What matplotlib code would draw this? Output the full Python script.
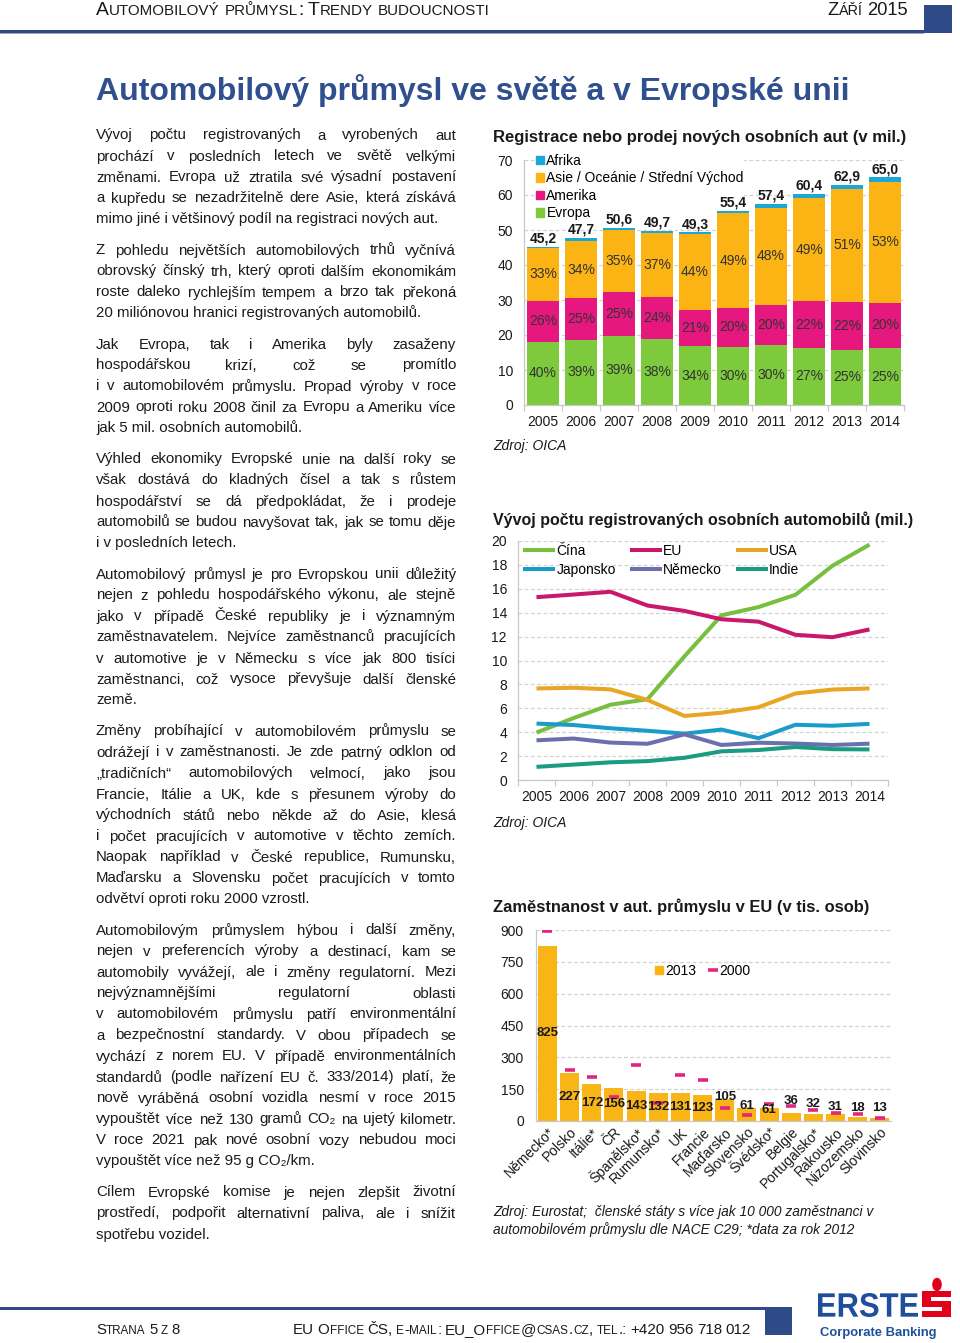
import numpy as np
import matplotlib
matplotlib.use('Agg')
import matplotlib.pyplot as plt
from matplotlib.patches import Patch, Rectangle, Circle, PathPatch
from matplotlib.lines import Line2D
from matplotlib.textpath import TextPath
from matplotlib.font_manager import FontProperties
from matplotlib.transforms import Affine2D, IdentityTransform

plt.rcParams['font.family'] = ['Liberation Sans', 'DejaVu Sans']

# ---------------- data ----------------
years = ['2005', '2006', '2007', '2008', '2009', '2010', '2011', '2012', '2013', '2014']

reg_series = ['Afrika', 'Asie / Oceánie / Střední Východ', 'Amerika', 'Evropa']
reg_total = [45.2, 47.7, 50.6, 49.7, 49.3, 55.4, 57.4, 60.4, 62.9, 65.0]
share_evropa = [40, 39, 39, 38, 34, 30, 30, 27, 25, 25]
share_amerika = [26, 25, 25, 24, 21, 20, 20, 22, 22, 20]
share_asie = [33, 34, 35, 37, 44, 49, 48, 49, 51, 53]

line_series = ['Čína', 'EU', 'USA', 'Japonsko', 'Německo', 'Indie']
cina = [3.97, 5.18, 6.30, 6.76, 10.35, 13.78, 14.47, 15.50, 17.93, 19.70]
eu = [15.30, 15.52, 15.75, 14.60, 14.15, 13.45, 13.25, 12.15, 11.95, 12.60]
usa = [7.66, 7.72, 7.58, 6.70, 5.36, 5.63, 6.09, 7.24, 7.57, 7.66]
japonsko = [4.72, 4.60, 4.33, 4.12, 3.88, 4.22, 3.50, 4.62, 4.54, 4.70]
nemecko = [3.32, 3.47, 3.13, 3.03, 3.82, 2.93, 3.12, 3.05, 2.93, 3.04]
indie = [1.10, 1.29, 1.48, 1.58, 1.86, 2.40, 2.51, 2.76, 2.58, 2.56]

countries = ['Německo*', 'Polsko', 'Itálie*', 'ČR', 'Španělsko*', 'Rumunsko*', 'UK', 'Francie',
             'Maďarsko', 'Slovensko', 'Švédsko*', 'Belgie', 'Portugalsko*', 'Rakousko',
             'Nizozemsko', 'Slovinsko']
emp_2013 = [825, 227, 172, 156, 143, 132, 131, 123, 105, 61, 61, 36, 32, 31, 18, 13]
emp_2000 = [897, 240, 206, 112, 266, 84, 219, 195, 60, 26, 81, 69, 54, 40, 35, 14]

paragraphs = [
    ["Vývoj počtu registrovaných a vyrobených aut",
     "prochází v posledních letech ve světě velkými",
     "změnami. Evropa už ztratila své výsadní postavení",
     "a kupředu se nezadržitelně dere Asie, která získává",
     "mimo jiné i většinový podíl na registraci nových aut."],
    ["Z pohledu největších automobilových trhů vyčnívá",
     "obrovský čínský trh, který oproti dalším ekonomikám",
     "roste daleko rychlejším tempem a brzo tak překoná",
     "20 miliónovou hranici registrovaných automobilů."],
    ["Jak Evropa, tak i Amerika byly zasaženy",
     "hospodářskou krizí, což se promítlo",
     "i v automobilovém průmyslu. Propad výroby v roce",
     "2009 oproti roku 2008 činil za Evropu a Ameriku více",
     "jak 5 mil. osobních automobilů."],
    ["Výhled ekonomiky Evropské unie na další roky se",
     "však dostává do kladných čísel a tak s růstem",
     "hospodářství se dá předpokládat, že i prodeje",
     "automobilů se budou navyšovat tak, jak se tomu děje",
     "i v posledních letech."],
    ["Automobilový průmysl je pro Evropskou unii důležitý",
     "nejen z pohledu hospodářského výkonu, ale stejně",
     "jako v případě České republiky je i významným",
     "zaměstnavatelem. Nejvíce zaměstnanců pracujících",
     "v automotive je v Německu s více jak 800 tisíci",
     "zaměstnanci, což vysoce převyšuje další členské",
     "země."],
    ["Změny probíhající v automobilovém průmyslu se",
     "odrážejí i v zaměstnanosti. Je zde patrný odklon od",
     "„tradičních“ automobilových velmocí, jako jsou",
     "Francie, Itálie a UK, kde s přesunem výroby do",
     "východních států nebo někde až do Asie, klesá",
     "i počet pracujících v automotive v těchto zemích.",
     "Naopak například v České republice, Rumunsku,",
     "Maďarsku a Slovensku počet pracujících v tomto",
     "odvětví oproti roku 2000 vzrostl."],
    ["Automobilovým průmyslem hýbou i další změny,",
     "nejen v preferencích výroby a destinací, kam se",
     "automobily vyvážejí, ale i změny regulatorní. Mezi",
     "nejvýznamnějšími regulatorní oblasti",
     "v automobilovém průmyslu patří environmentální",
     "a bezpečnostní standardy. V obou případech se",
     "vychází z norem EU. V případě environmentálních",
     "standardů (podle nařízení EU č. 333/2014) platí, že",
     "nově vyráběná osobní vozidla nesmí v roce 2015",
     "vypouštět více než 130 gramů CO₂ na ujetý kilometr.",
     "V roce 2021 pak nové osobní vozy nebudou moci",
     "vypouštět více než 95 g CO₂/km."],
    ["Cílem Evropské komise je nejen zlepšit životní",
     "prostředí, podpořit alternativní paliva, ale i snížit",
     "spotřebu vozidel."],
]

# ---------------- setup ----------------
W, H = 960, 1343
fig = plt.figure(figsize=(9.6, 13.43), dpi=100)
R = fig.canvas.get_renderer()
TXT = '#1a1a1a'
NAVY = '#2e4b88'


def fx(x):
    return x / W


def fy(y):
    return 1 - y / H


def text_w(s, **kw):
    t = fig.text(0, 0, s, **kw)
    w = t.get_window_extent(R).width
    t.remove()
    return w


def fit_size(s, width, **kw):
    return 10.0 * width / text_w(s, fontsize=10.0, **kw)


def rect_px(x0, y0, x1, y1, color, z=1):
    fig.add_artist(Rectangle((fx(x0), fy(y1)), fx(x1) - fx(x0), fy(y0) - fy(y1),
                             transform=fig.transFigure, color=color, lw=0, zorder=z))


def runs_of(s):
    out = []
    for ch in s:
        kind = 'space' if ch == ' ' else ('small' if ch.islower() else 'big')
        if out and out[-1][1] == kind:
            out[-1][0] += ch
        else:
            out.append([ch, kind])
    return out


def smallcaps(x, y, s, big, small, color=TXT, draw=True):
    cx = x
    sp = text_w('H H', fontsize=small) - text_w('HH', fontsize=small)
    for txt, kind in runs_of(s):
        if kind == 'space':
            cx += sp * len(txt)
            continue
        fs = small if kind == 'small' else big
        if draw:
            fig.text(fx(cx), fy(y), txt.upper(), fontsize=fs, color=color,
                     va='baseline', ha='left')
        cx += text_w(txt.upper(), fontsize=fs) + 0.3
    return cx - x


def smallcaps_fit(x0, x1, y, s, big, small, color=TXT):
    w = smallcaps(0, 0, s, big, small, draw=False)
    k = (x1 - x0) / w
    smallcaps(x0, y, s, big * k, small * k, color)


# ---------------- header / footer ----------------
smallcaps_fit(96, 487, 15, 'Automobilový průmysl: Trendy budoucnosti', 11, 8.6)
smallcaps_fit(827, 908, 15, 'Září 2015', 11, 8.6)
rect_px(0, 30, 924, 33, NAVY)
rect_px(0, 33, 924, 34, '#9aa6bd')
rect_px(924, 5, 952, 33, NAVY)

fs_title = fit_size('Automobilový průmysl ve světě a v Evropské unii', 755, weight='bold')
fig.text(fx(96), fy(100), 'Automobilový průmysl ve světě a v Evropské unii',
         fontsize=fs_title, weight='bold', color='#2f4f8f', va='baseline', ha='left')

rect_px(0, 1307, 765, 1310, NAVY)
rect_px(765, 1307, 792, 1335, NAVY)
smallcaps_fit(96, 180, 1334, 'Strana 5 z 8', 11, 8.6)
smallcaps_fit(293, 749, 1334, 'EU Office ČS, e-mail: EU_Office@csas.cz, tel.: +420 956 718 012', 11, 8.6)

# ERSTE logo
BL = '#1f4f9c'
fp = FontProperties(family='Liberation Sans', weight='bold')
tp = TextPath((0, 0), 'ERSTE', size=100, prop=fp)
bb = tp.get_extents()
tr = Affine2D().translate(-bb.x0, -bb.y0).scale(100 / bb.width, 24 / bb.height).translate(818, H - 1317)
fig.add_artist(PathPatch(tr.transform_path(tp), facecolor=BL, edgecolor='none',
                         transform=IdentityTransform()))
RED = '#e2001a'
rect_px(922, 1291, 951, 1317, RED, z=2)
rect_px(931, 1297, 951, 1301, 'white', z=3)
rect_px(922, 1307, 942, 1311, 'white', z=3)
fig.add_artist(Circle((fx(937), fy(1284.5)), 4.8 / W, transform=fig.transFigure, color=RED, lw=0))
fs_cb = fit_size('Corporate Banking', 117, weight='bold')
fig.text(fx(820), fy(1336), 'Corporate Banking', fontsize=fs_cb, weight='bold', color=BL,
         va='baseline', ha='left')

# ---------------- body text ----------------
X0, X1 = 96, 456
fs_body = fit_size('mimo jiné i většinový podíl na registraci nových aut.', 345)
LH, GAP = 21, 10
yb = 139.5
for para in paragraphs:
    for i, line in enumerate(para):
        last = (i == len(para) - 1)
        words = line.split(' ')
        if last or len(words) == 1:
            fig.text(fx(X0), fy(yb), line, fontsize=fs_body, color=TXT, va='baseline', ha='left')
        else:
            ws = [text_w(w_, fontsize=fs_body) for w_ in words]
            gap = (X1 - X0 - sum(ws)) / (len(words) - 1)
            cx = X0
            for w_, wd in zip(words, ws):
                fig.text(fx(cx), fy(yb), w_, fontsize=fs_body, color=TXT, va='baseline', ha='left')
                cx += wd + gap
        yb += LH
    yb += GAP


# ---------------- chart helpers ----------------
def add_ax(l, r, t, b):
    return fig.add_axes([fx(l), fy(b), fx(r) - fx(l), fy(t) - fy(b)])


def style(ax, ymax, step, ypad=8):
    ax.set_ylim(0, ymax)
    ax.set_yticks(np.arange(0, ymax + step / 2, step))
    ax.set_axisbelow(True)
    ax.yaxis.grid(True, color='#d2d2d2', ls=(0, (3, 2)), lw=0.9)
    for sp in ['top', 'right']:
        ax.spines[sp].set_visible(False)
    for sp in ['left', 'bottom']:
        ax.spines[sp].set_color('#c8c8c8')
        ax.spines[sp].set_linewidth(0.9)
    ax.tick_params(axis='y', length=0, pad=ypad, labelsize=10, labelcolor=TXT)
    ax.tick_params(axis='x', which='major', length=0, pad=7, labelsize=10, labelcolor=TXT)
    ax.tick_params(axis='x', which='minor', length=4, color='#c8c8c8', width=0.9)


def chart_title(x0, x1, y, s):
    fs = fit_size(s, x1 - x0, weight='bold')
    fig.text(fx(x0), fy(y), s, fontsize=fs, weight='bold', color=TXT, va='baseline', ha='left')


def source(x, y, s, fs=10):
    fig.text(fx(x), fy(y), s, fontsize=fs, style='italic', color=TXT, va='baseline', ha='left')


# ---------------- chart 1 ----------------
C_AF, C_AS, C_AM, C_EV = '#1ba7d8', '#fbb413', '#e6187f', '#7dcb3d'
chart_title(493, 908, 142, 'Registrace nebo prodej nových osobních aut (v mil.)')
ax1 = add_ax(524, 904, 160, 405)
x = np.arange(len(years))
tot = np.array(reg_total)
ev = tot * np.array(share_evropa) / 100
am = tot * np.array(share_amerika) / 100
asi = tot * np.array(share_asie) / 100
af = tot - ev - am - asi
bw = 0.84
ax1.bar(x, ev, bw, color=C_EV, zorder=2)
ax1.bar(x, am, bw, bottom=ev, color=C_AM, zorder=2)
ax1.bar(x, asi, bw, bottom=ev + am, color=C_AS, zorder=2)
ax1.bar(x, af, bw, bottom=ev + am + asi, color=C_AF, zorder=2)
for i in x:
    ax1.text(i, ev[i] / 2, f'{share_evropa[i]}%', ha='center', va='center', fontsize=10, color='#333', zorder=4)
    ax1.text(i, ev[i] + am[i] / 2, f'{share_amerika[i]}%', ha='center', va='center', fontsize=10, color='#333', zorder=4)
    ax1.text(i, ev[i] + am[i] + asi[i] / 2, f'{share_asie[i]}%', ha='center', va='center', fontsize=10, color='#333', zorder=4)
    ax1.annotate(f'{reg_total[i]:.1f}'.replace('.', ','), (i, tot[i]), xytext=(0, 1),
                 textcoords='offset points', ha='center', va='bottom', fontsize=10,
                 weight='bold', color=TXT, zorder=4)
ax1.set_xlim(-0.5, len(years) - 0.5)
ax1.set_xticks(x)
ax1.set_xticklabels(years)
ax1.set_xticks(np.arange(-0.5, len(years)), minor=True)
style(ax1, 70, 10)
h1 = [Patch(color=c) for c in [C_AF, C_AS, C_AM, C_EV]]
leg1 = ax1.legend(h1, reg_series, loc='upper left', bbox_to_anchor=(fx(536), fy(154)),
                  bbox_transform=fig.transFigure, frameon=True, facecolor='white', edgecolor='none',
                  framealpha=1, fancybox=False, fontsize=10, handlelength=0.55, handleheight=0.55,
                  handletextpad=0.2, labelspacing=0.25, borderpad=0, borderaxespad=0)
leg1.set_zorder(1)
source(493, 450, 'Zdroj: OICA')

# ---------------- chart 2 ----------------
chart_title(493, 913, 525, 'Vývoj počtu registrovaných osobních automobilů (mil.)')
ax2 = add_ax(518, 888, 541, 780)
line_data = [cina, eu, usa, japonsko, nemecko, indie]
line_cols = ['#78bf3f', '#c8186b', '#e8a625', '#1b9bc9', '#6b70ad', '#1a9b82']
handles = {}
for name, d, c in zip(line_series, line_data, line_cols):
    ln, = ax2.plot(x, d, color=c, lw=2.9, solid_joinstyle='round', solid_capstyle='butt', zorder=3)
    handles[name] = ln
ax2.set_xlim(-0.5, len(years) - 0.5)
ax2.set_xticks(x)
ax2.set_xticklabels(years)
ax2.set_xticks(np.arange(-0.5, len(years)), minor=True)
style(ax2, 20, 2)
order = ['Čína', 'Japonsko', 'EU', 'Německo', 'USA', 'Indie']
ax2.legend([handles[n] for n in order], order, ncol=3, loc='upper left',
           bbox_to_anchor=(fx(523), fy(544)), bbox_transform=fig.transFigure, frameon=False,
           fontsize=10, handlelength=2.3, handletextpad=0.1, labelspacing=0.36,
           columnspacing=1.0, borderpad=0, borderaxespad=0)
source(493, 827, 'Zdroj: OICA')

# ---------------- chart 3 ----------------
C13, C00 = '#f9b515', '#e2257e'
chart_title(493, 870, 912, 'Zaměstnanost v aut. průmyslu v EU (v tis. osob)')
ax3 = add_ax(536.4, 891, 930, 1121)
x3 = np.arange(len(countries))
ax3.bar(x3, emp_2013, 0.86, color=C13, zorder=2)
ax3.plot(x3, emp_2000, ls='none', marker='_', ms=7.5, mew=2.6, color=C00, zorder=3)
for i, (v, d) in enumerate(zip(emp_2013, emp_2000)):
    if v >= 120:
        yv = v / 2
    elif v < d and d >= 75:
        yv = d - 29          # label sits just under the 2000 mark
    elif v < d:
        yv = max(v + 8, d + 24, 60)   # label lifted over the 2000 mark
    else:
        yv = max(v + 8, 60)
    ax3.text(i, yv, str(v), ha='center', va='center', fontsize=9.5, weight='bold', color=TXT, zorder=4)
ax3.set_xlim(-0.5, len(countries) - 0.5)
style(ax3, 900, 150, ypad=9)
ax3.set_xticks(x3)
ax3.set_xticklabels(countries, rotation=45, ha='right', va='top', rotation_mode='anchor')
ax3.tick_params(axis='x', which='major', pad=3)
h3 = [Patch(color=C13), Line2D([], [], ls='none', marker='_', ms=7, mew=2.6, color=C00)]
ax3.legend(h3, ['2013', '2000'], ncol=2, loc='center left', bbox_to_anchor=(fx(655), fy(971)),
           bbox_transform=fig.transFigure, frameon=False, fontsize=10, handlelength=0.55,
           handleheight=0.55, handletextpad=0.2, columnspacing=0.9, borderpad=0, borderaxespad=0)
fs_src = fit_size('Zdroj: Eurostat;  členské státy s více jak 10 000 zaměstnanci v', 380, style='italic')
source(493, 1216, 'Zdroj: Eurostat;  členské státy s více jak 10 000 zaměstnanci v', fs_src)
source(493, 1234, 'automobilovém průmyslu dle NACE C29; *data za rok 2012', fs_src)

fig.savefig('out.png', dpi=100, facecolor='white')
